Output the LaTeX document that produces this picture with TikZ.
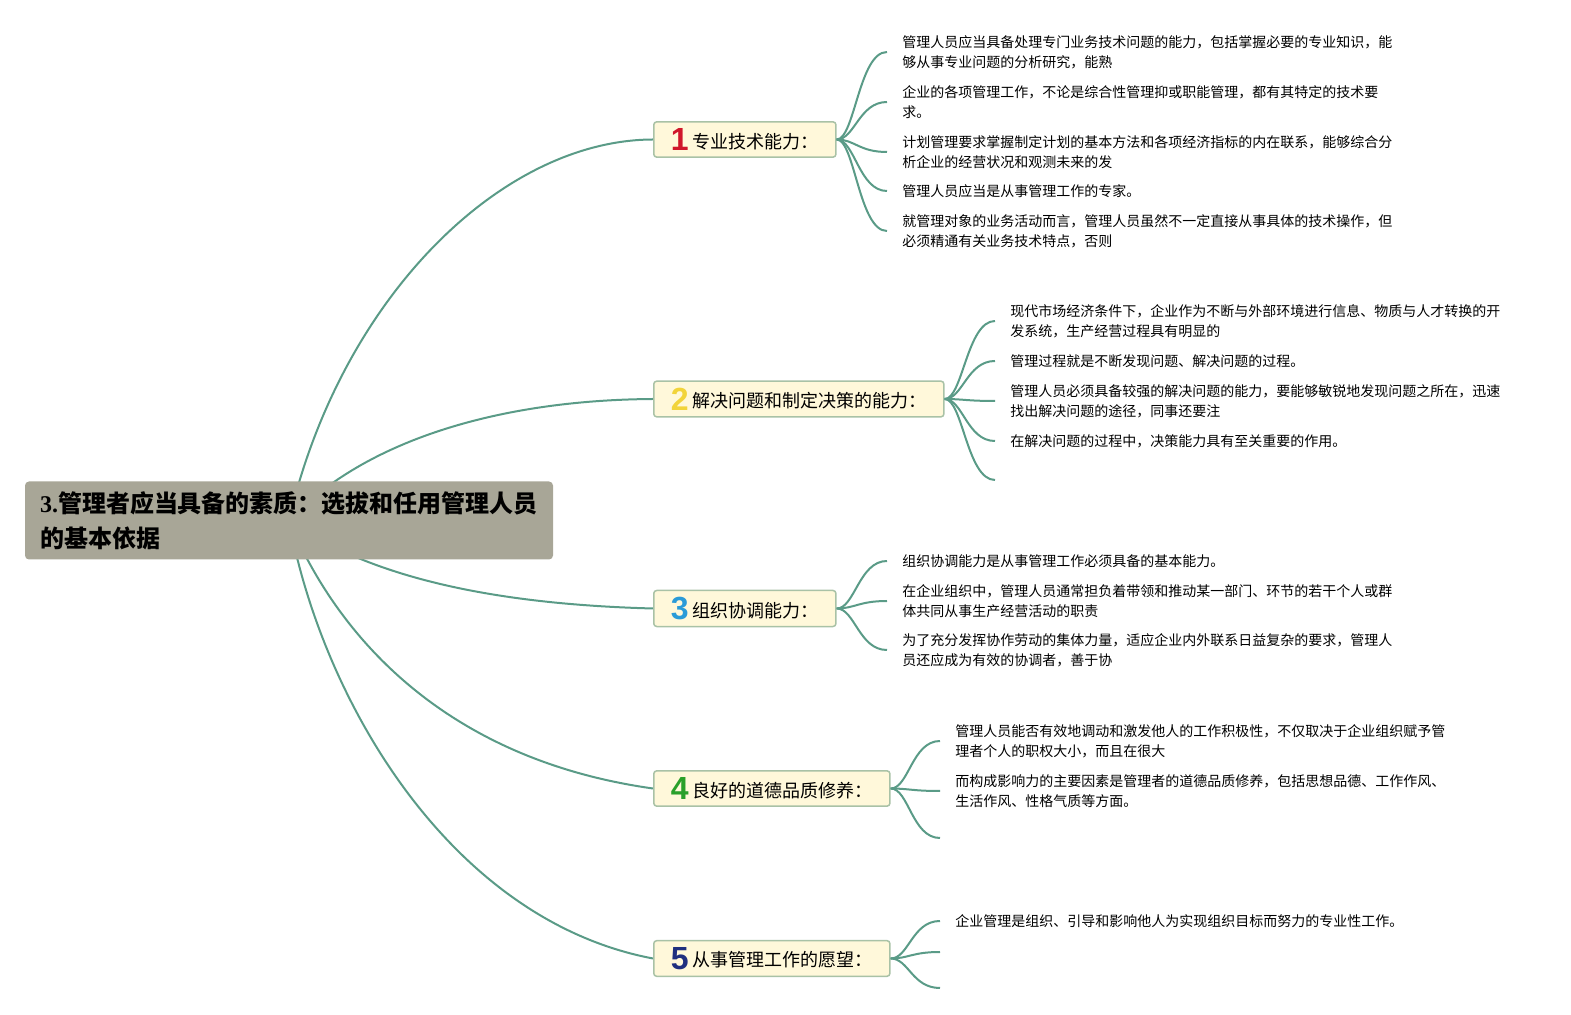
\documentclass[tikz,border=0pt]{standalone}
\usepackage{fontspec}
\setmainfont{Noto Sans CJK SC}
\newfontfamily\numfont{Liberation Sans}
\newfontfamily\serifnum{Liberation Serif}
\usetikzlibrary{backgrounds}

\definecolor{linkc}{HTML}{5A9B87}
\definecolor{boxfill}{HTML}{FFF8DA}
\definecolor{boxline}{HTML}{A9C2A6}
\definecolor{rootfill}{HTML}{A8A697}
\definecolor{numred}{HTML}{D0162B}
\definecolor{numyellow}{HTML}{F2D43A}
\definecolor{numblue}{HTML}{2A9BD8}
\definecolor{numgreen}{HTML}{2AA02A}
\definecolor{numnavy}{HTML}{1F2F7F}

\newcommand{\topicnum}[2]{\raisebox{-1.2pt}{\numfont\bfseries\fontsize{16}{16}\selectfont\color{#1}#2}\hspace{2pt}}

\begin{document}
\begin{tikzpicture}[x=0.5pt, y=-0.5pt,
	% Define the styles for the map
	rootbox/.style={fill=rootfill, rounded corners=2pt, align=left, text width=249pt,
		inner xsep=7.5pt, minimum height=39pt, font=\bfseries\fontsize{12}{17.5}\selectfont},
	topic/.style={anchor=west, draw=boxline, fill=boxfill, line width=0.75pt, rounded corners=1.5pt,
		minimum height=17.5pt, inner xsep=8.6pt, font=\fontsize{9}{9}\selectfont},
	leaf/.style={anchor=west, align=left, inner xsep=7.5pt, inner ysep=0pt,
		font=\fontsize{7}{10}\selectfont},
	link/.style={draw=linkc, line width=1pt}
	]
	\useasboundingbox (0,0) rectangle (1571,1015);
	
	% --- CENTRAL TOPIC ---
	\node[rootbox] (root) at (289,520.5) {{\serifnum 3.}管理者应当具备的素质：选拔和任用管理人员\\的基本依据};
	
	% --- MAIN TOPICS ---
	% Format: \node[topic] (name) at (x,y) {number + title};
	
	\node[topic] (b1) at (653,139.5) {\topicnum{numred}{1}专业技术能力：};
	\node[topic] (b2) at (653,399) {\topicnum{numyellow}{2}解决问题和制定决策的能力：};
	\node[topic] (b3) at (653,608.5) {\topicnum{numblue}{3}组织协调能力：};
	\node[topic] (b4) at (653,788.5) {\topicnum{numgreen}{4}良好的道德品质修养：};
	\node[topic] (b5) at (653,958.5) {\topicnum{numnavy}{5}从事管理工作的愿望：};
	
	% --- SUBTOPICS ---
	\node[leaf] (l11) at (887,52) {管理人员应当具备处理专门业务技术问题的能力，包括掌握必要的专业知识，能\\够从事专业问题的分析研究，能熟};
	\node[leaf] (l12) at (887,102) {企业的各项管理工作，不论是综合性管理抑或职能管理，都有其特定的技术要\\求。};
	\node[leaf] (l13) at (887,152) {计划管理要求掌握制定计划的基本方法和各项经济指标的内在联系，能够综合分\\析企业的经营状况和观测未来的发};
	\node[leaf] (l14) at (887,191) {管理人员应当是从事管理工作的专家。};
	\node[leaf] (l15) at (887,231) {就管理对象的业务活动而言，管理人员虽然不一定直接从事具体的技术操作，但\\必须精通有关业务技术特点，否则};
	
	\node[leaf] (l21) at (995,321) {现代市场经济条件下，企业作为不断与外部环境进行信息、物质与人才转换的开\\发系统，生产经营过程具有明显的};
	\node[leaf] (l22) at (995,361) {管理过程就是不断发现问题、解决问题的过程。};
	\node[leaf] (l23) at (995,401) {管理人员必须具备较强的解决问题的能力，要能够敏锐地发现问题之所在，迅速\\找出解决问题的途径，同事还要注};
	\node[leaf] (l24) at (995,441) {在解决问题的过程中，决策能力具有至关重要的作用。};
	\node[leaf] (l25) at (995,480) {};
	
	\node[leaf] (l31) at (887,561) {组织协调能力是从事管理工作必须具备的基本能力。};
	\node[leaf] (l32) at (887,601) {在企业组织中，管理人员通常担负着带领和推动某一部门、环节的若干个人或群\\体共同从事生产经营活动的职责};
	\node[leaf] (l33) at (887,650) {为了充分发挥协作劳动的集体力量，适应企业内外联系日益复杂的要求，管理人\\员还应成为有效的协调者，善于协};
	
	\node[leaf] (l41) at (940,741) {管理人员能否有效地调动和激发他人的工作积极性，不仅取决于企业组织赋予管\\理者个人的职权大小，而且在很大};
	\node[leaf] (l42) at (940,791) {而构成影响力的主要因素是管理者的道德品质修养，包括思想品德、工作作风、\\生活作风、性格气质等方面。};
	\node[leaf] (l43) at (940,838) {};
	
	\node[leaf] (l51) at (940,921) {企业管理是组织、引导和影响他人为实现组织目标而努力的专业性工作。};
	\node[leaf] (l52) at (940,952) {};
	\node[leaf] (l53) at (940,988) {};
	
	% --- LINKS ---
	% main links leave the centre of the root, under its box
	\begin{scope}[on background layer]
		\draw[link] (root.center) .. controls (340,300) and (500,140) .. (b1.west);
		\draw[link] (root.center) .. controls (365,440) and (500,400) .. (b2.west);
		\draw[link] (root.center) .. controls (380,585) and (520,605) .. (b3.west);
		\draw[link] (root.center) .. controls (339,641) and (450,760) .. (b4.west);
		\draw[link] (root.center) .. controls (322,700) and (450,920) .. (b5.west);
	\end{scope}
	
	\foreach \l in {l11,l12,l13,l14,l15}
		\draw[link] (b1.east) .. controls +(18,0) and +(-28,0) .. (\l.west);
	\foreach \l in {l21,l22,l23,l24,l25}
		\draw[link] (b2.east) .. controls +(18,0) and +(-28,0) .. (\l.west);
	\foreach \l in {l31,l32,l33}
		\draw[link] (b3.east) .. controls +(18,0) and +(-28,0) .. (\l.west);
	\foreach \l in {l41,l42,l43}
		\draw[link] (b4.east) .. controls +(18,0) and +(-28,0) .. (\l.west);
	\foreach \l in {l51,l52,l53}
		\draw[link] (b5.east) .. controls +(18,0) and +(-28,0) .. (\l.west);
	
\end{tikzpicture}
\end{document}
